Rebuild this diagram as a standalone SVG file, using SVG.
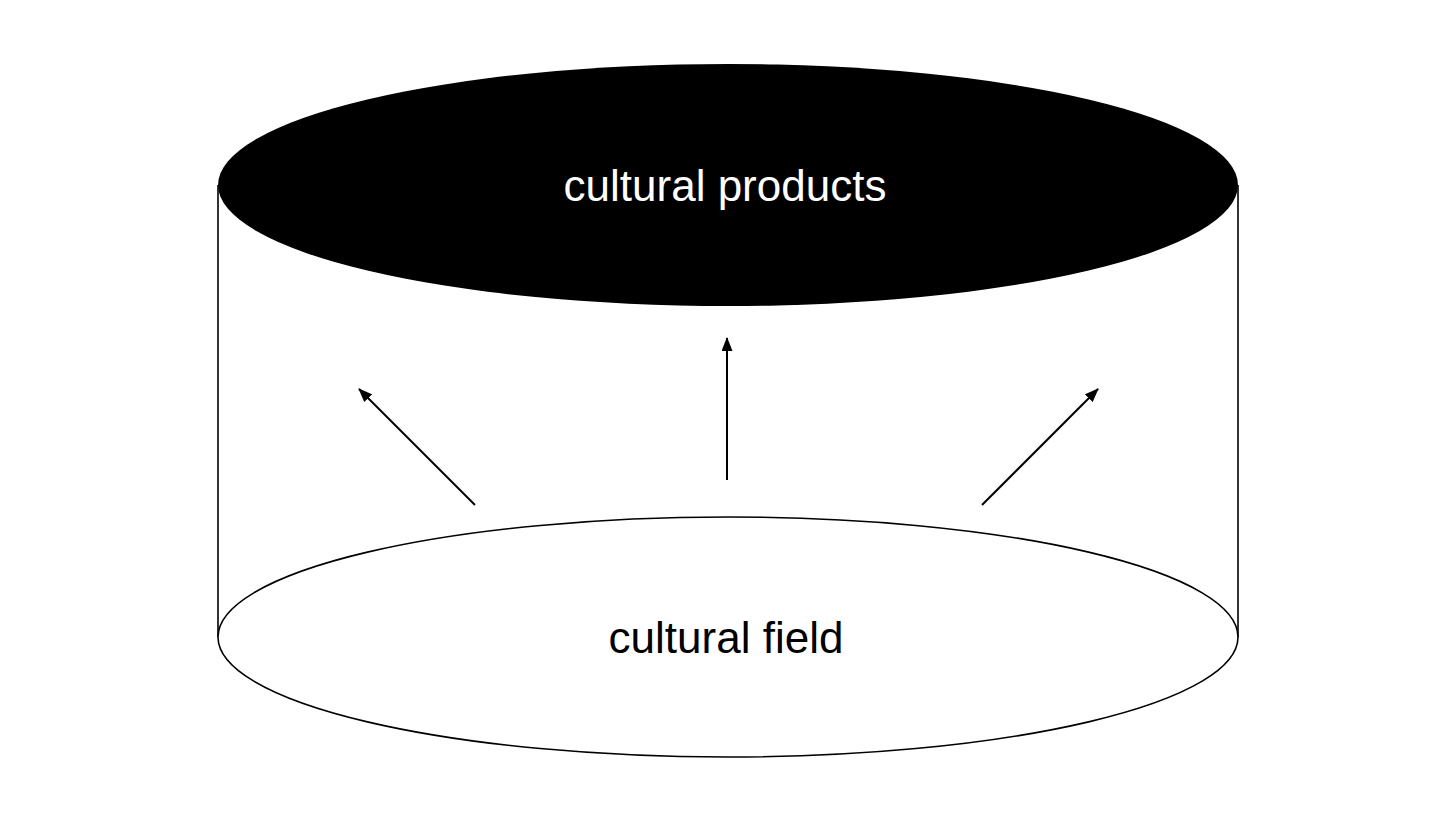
<svg xmlns="http://www.w3.org/2000/svg" width="1456" height="816" viewBox="0 0 1456 816">
  <defs>
    <style>
      .lbl { font-family: "Liberation Sans", Arial, sans-serif; font-size: 44px; text-anchor: middle; }
      .edge { stroke: #000; stroke-width: 2; fill: none; }
      .side { stroke: #000; stroke-width: 1.6; }
    </style>
    <marker id="arr" viewBox="0 0 14 11" refX="13" refY="5.5" markerWidth="14" markerHeight="11" markerUnits="userSpaceOnUse" orient="auto">
      <path d="M0,0 L14,5.5 L0,11 Z" fill="#000"/>
    </marker>
  </defs>
  <rect width="1456" height="816" fill="#fff"/>
  <g id="cylinder-sides">
    <line class="side" x1="218" y1="185" x2="218" y2="637"/>
    <line class="side" x1="1238" y1="185" x2="1238" y2="637"/>
  </g>
  <g id="cultural-field">
    <ellipse cx="728" cy="637" rx="510" ry="120" fill="#fff" stroke="#000" stroke-width="1.6"/>
    <text class="lbl" x="726" y="653" fill="#000">cultural field</text>
  </g>
  <g id="cultural-products">
    <ellipse cx="728" cy="185" rx="510" ry="121" fill="#000"/>
    <text class="lbl" x="725" y="201" fill="#fff">cultural products</text>
  </g>
  <g id="connectors">
    <line class="edge" x1="475" y1="505" x2="359" y2="389" marker-end="url(#arr)"/>
    <line class="edge" x1="727" y1="480" x2="727" y2="338" marker-end="url(#arr)"/>
    <line class="edge" x1="982" y1="505" x2="1098" y2="389" marker-end="url(#arr)"/>
  </g>
</svg>
